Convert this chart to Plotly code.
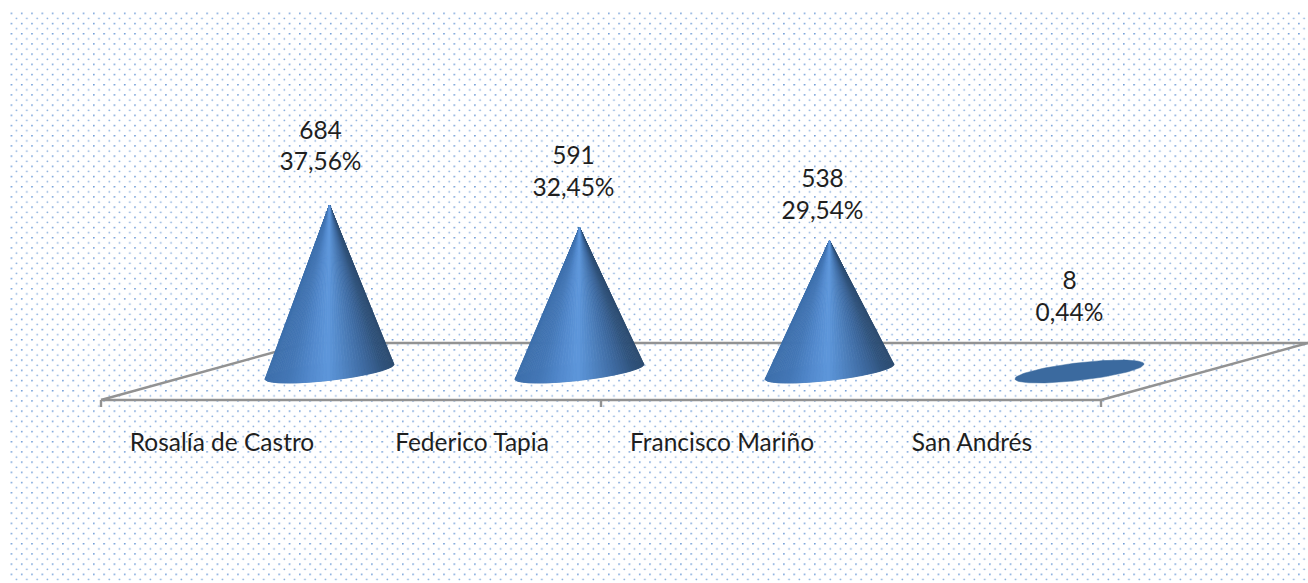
import base64
import math
import plotly.graph_objects as go

# ---- data ----
categories = ["Rosalía de Castro", "Federico Tapia", "Francisco Mariño", "San Andrés"]
values = [684, 591, 538, 8]
percent_labels = ["37,56%", "32,45%", "29,54%", "0,44%"]

# ---- layout constants (pixels of the 1308x583 canvas) ----
W, H = 1308, 583
FRONT_X0 = 101       # left end of the front floor edge
CAT_W = 250          # width of one category
BASE_Y = 371.5       # screen y of value 0 at mid depth
PX_PER_UNIT = 166.5 / 684
DEPTH_DX, DEPTH_DY = 207, 57
RADIUS_X = 49.5 / CAT_W
BASE_V = (41.4 / CAT_W, 11.5 / PX_PER_UNIT)
MID_DEPTH_SHIFT = 0.5 * DEPTH_DX / CAT_W

LABEL_FONT = "Lato, Carlito, Calibri, sans-serif"
LABEL_SIZE = 24.5
TEXT_COLOR = "#1f1f1f"
FLOOR_COLOR = "#929292"
BASE_COLOR = "#3b6a9f"
SHADE_STOPS = [(0.0, (62, 112, 172)), (0.18, (68, 119, 182)), (0.36, (84, 139, 207)),
               (0.48, (94, 151, 219)), (0.60, (82, 135, 198)), (0.78, (62, 106, 160)),
               (0.92, (48, 83, 124)), (1.0, (45, 76, 112))]
N_STRIPS = 60

# label offsets, in pixels, from each cone's apex
label_dx = [-9, -6, -7, -10]
value_label_y = [132.5, 157.5, 180.5, 282.5]
percent_label_y = [163.5, 189.5, 212.5, 314.5]
category_label_dx = -4
category_label_y = 444.5


def x_of_px(px):
    return (px - FRONT_X0) / CAT_W


def y_of_px(py):
    return (BASE_Y - py) / PX_PER_UNIT


def shade(f):
    for (f0, c0), (f1, c1) in zip(SHADE_STOPS, SHADE_STOPS[1:]):
        if f <= f1:
            k = (f - f0) / (f1 - f0)
            return "rgb(%d,%d,%d)" % tuple(round(a + (b - a) * k) for a, b in zip(c0, c1))
    return "rgb(%d,%d,%d)" % SHADE_STOPS[-1][1]


fig = go.Figure()


def line(xs, ys, width=2.4):
    fig.add_trace(go.Scatter(x=xs, y=ys, mode="lines", hoverinfo="skip", showlegend=False,
                             line=dict(color=FLOOR_COLOR, width=width)))


# floor, expressed in category and value units
n = len(categories)
front_y = y_of_px(BASE_Y + DEPTH_DY / 2)
back_y = y_of_px(BASE_Y - DEPTH_DY / 2)
shift = DEPTH_DX / CAT_W
line([0, n], [front_y, front_y])
line([shift, n + shift], [back_y, back_y])
line([0, shift], [front_y, back_y])
line([n, n + shift], [front_y, back_y])
tick_bottom = y_of_px(BASE_Y + DEPTH_DY / 2 + 7)
for t in range(0, n + 1, 2):
    line([t, t], [front_y, tick_bottom])


def base_point(cx, t):
    return (cx + RADIUS_X * math.cos(t) + BASE_V[0] * math.sin(t), BASE_V[1] * math.sin(t))


# cones
t_right = math.atan2(BASE_V[0], RADIUS_X)
t_left = t_right + math.pi
for i, v in enumerate(values):
    cx = i + 0.5 + MID_DEPTH_SHIFT
    # base ellipse
    pts = [base_point(cx, 2 * math.pi * k / 96) for k in range(97)]
    fig.add_trace(go.Scatter(x=[p[0] for p in pts], y=[p[1] for p in pts], mode="lines",
                             fill="toself", fillcolor=BASE_COLOR, hoverinfo="skip", showlegend=False,
                             line=dict(color=BASE_COLOR, width=0.5)))
    if v <= BASE_V[1]:
        continue  # apex inside the base: no visible side
    x_min = base_point(cx, t_left)[0]
    x_max = base_point(cx, t_right)[0]
    strips = []
    for j in range(N_STRIPS):
        t0 = t_left + math.pi * j / N_STRIPS
        t1 = t_left + math.pi * (j + 1) / N_STRIPS
        p0, p1 = base_point(cx, t0), base_point(cx, t1)
        f = ((p0[0] + p1[0]) / 2 - x_min) / (x_max - x_min)
        strips.append((abs(f - 0.48), f, p0, p1))
    # paint edges first so the lit middle sits on top at the tip
    strips.sort(key=lambda s: -s[0])
    for _, f, p0, p1 in strips:
        colour = shade(f)
        fig.add_trace(go.Scatter(x=[cx, p0[0], p1[0], cx], y=[v, p0[1], p1[1], v], mode="lines",
                                 fill="toself", fillcolor=colour, hoverinfo="skip", showlegend=False,
                                 line=dict(color=colour, width=0.8)))

# data labels (two lines, separate for the exact line pitch)
apex_x = [i + 0.5 + MID_DEPTH_SHIFT for i in range(n)]
label_x = [a + dx / CAT_W for a, dx in zip(apex_x, label_dx)]
label_font = dict(family=LABEL_FONT, size=LABEL_SIZE, color=TEXT_COLOR)
fig.add_trace(go.Scatter(x=label_x, y=[y_of_px(p) for p in value_label_y], mode="text",
                         text=[str(v) for v in values], textposition="middle center",
                         textfont=label_font, hoverinfo="skip", showlegend=False))
fig.add_trace(go.Scatter(x=label_x, y=[y_of_px(p) for p in percent_label_y], mode="text",
                         text=percent_labels, textposition="middle center",
                         textfont=label_font, hoverinfo="skip", showlegend=False))
# category labels
fig.add_trace(go.Scatter(x=[i + 0.5 + category_label_dx / CAT_W for i in range(n)],
                         y=[y_of_px(category_label_y)] * n, mode="text",
                         text=categories, textposition="middle center",
                         textfont=label_font, hoverinfo="skip", showlegend=False))

# dotted background tile
svg = f"""<svg xmlns="http://www.w3.org/2000/svg" width="{W}" height="{H}" viewBox="0 0 {W} {H}">
<defs><pattern id="d" x="10.6" y="12.6" width="10.3" height="10.2" patternUnits="userSpaceOnUse">
<circle cx="0.8" cy="0.8" r="0.88" fill="#6595d4"/><circle cx="5.95" cy="5.9" r="0.88" fill="#80a8da"/>
</pattern></defs>
<rect x="10" y="12" width="{W - 10}" height="{H - 12}" fill="url(#d)"/></svg>"""
bg = "data:image/svg+xml;base64," + base64.b64encode(svg.encode()).decode()

fig.update_layout(
    width=W, height=H, autosize=False,
    margin=dict(l=0, r=0, t=0, b=0),
    paper_bgcolor="white", plot_bgcolor="rgba(0,0,0,0)",
    showlegend=False,
    xaxis=dict(range=[x_of_px(0), x_of_px(W)], visible=False, fixedrange=True),
    yaxis=dict(range=[y_of_px(H), y_of_px(0)], visible=False, fixedrange=True),
    images=[dict(source=bg, xref="paper", yref="paper", x=0, y=1, sizex=1, sizey=1,
                 sizing="stretch", xanchor="left", yanchor="top", layer="below")],
)

fig.write_html("out.html", config={"displayModeBar": False},
               post_script="document.body.style.margin='0';document.body.style.overflow='hidden';")
